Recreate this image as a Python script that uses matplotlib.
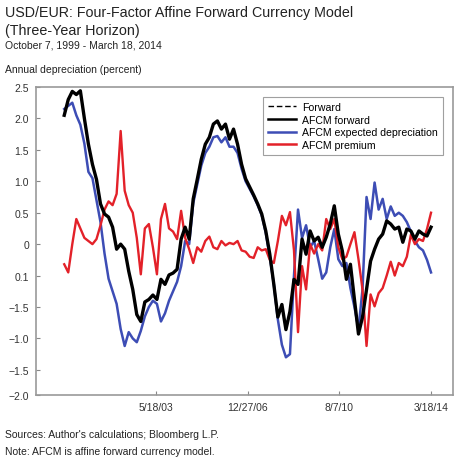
import numpy as np
import pandas as pd
import matplotlib
matplotlib.use("Agg")
import matplotlib.pyplot as plt

plt.rcParams["font.family"] = ["Liberation Sans", "DejaVu Sans"]

afcm_forward = [
    2.05, 2.30, 2.43, 2.38, 2.44, 2.00, 1.59, 1.27, 1.03, 0.64,
    0.48, 0.43, 0.27, -0.08, 0.00, -0.08, -0.43, -0.72, -1.12, -1.23,
    -0.92, -0.88, -0.81, -0.88, -0.56, -0.64, -0.49, -0.46, -0.40, 0.08,
    0.27, 0.08, 0.72, 1.03, 1.35, 1.59, 1.70, 1.91, 1.96, 1.83,
    1.91, 1.67, 1.83, 1.59, 1.27, 1.04, 0.91, 0.78, 0.64, 0.48,
    0.21, -0.16, -0.64, -1.16, -0.96, -1.36, -1.07, -0.56, -0.64, 0.08,
    -0.16, 0.21, 0.05, 0.11, -0.05, 0.11, 0.32, 0.61, 0.16, -0.11,
    -0.56, -0.32, -0.88, -1.43, -1.16, -0.72, -0.27, -0.08, 0.08, 0.16,
    0.37, 0.32, 0.24, 0.27, 0.03, 0.24, 0.21, 0.08, 0.21, 0.16,
    0.13, 0.27,
]
forward = list(afcm_forward)
afcm_expected = [
    2.15, 2.20, 2.25, 2.05, 1.90, 1.60, 1.15, 1.05, 0.70, 0.35,
    -0.15, -0.55, -0.75, -0.95, -1.35, -1.62, -1.40, -1.50, -1.56, -1.38,
    -1.15, -1.00, -0.90, -0.95, -1.23, -1.10, -0.90, -0.75, -0.60, -0.35,
    0.05, 0.00, 0.65, 0.95, 1.25, 1.45, 1.55, 1.70, 1.72, 1.62,
    1.70, 1.55, 1.55, 1.45, 1.20, 1.00, 0.88, 0.76, 0.62, 0.46,
    0.18, -0.20, -0.64, -1.20, -1.60, -1.80, -1.75, -0.50, 0.55, 0.10,
    0.30, -0.05, 0.05, -0.24, -0.55, -0.45, -0.05, 0.24, -0.24, -0.35,
    -0.30, -0.70, -1.00, -1.35, -0.72, 0.75, 0.40, 0.98, 0.55, 0.72,
    0.40, 0.60, 0.45, 0.50, 0.45, 0.35, 0.20, 0.05, -0.05, -0.10,
    -0.25, -0.45,
]
afcm_premium = [
    -0.32, -0.45, 0.00, 0.40, 0.25, 0.10, 0.05, 0.00, 0.08, 0.30,
    0.55, 0.68, 0.62, 0.80, 1.80, 0.85, 0.62, 0.50, 0.10, -0.48,
    0.25, 0.32, -0.05, -0.48, 0.40, 0.64, 0.25, 0.20, 0.08, 0.53,
    0.10, -0.08, -0.30, -0.05, -0.12, 0.05, 0.12, -0.05, -0.08, 0.05,
    -0.02, 0.02, 0.00, 0.05, -0.10, -0.12, -0.20, -0.22, -0.05, -0.10,
    -0.08, -0.25, -0.30, 0.05, 0.45, 0.30, 0.51, -0.10, -1.40, -0.35,
    -0.72, 0.00, -0.15, 0.00, -0.10, 0.40, 0.24, 0.40, -0.05, -0.24,
    -0.20, 0.00, 0.19, -0.24, -0.72, -1.62, -0.80, -0.99, -0.78, -0.70,
    -0.50, -0.28, -0.50, -0.30, -0.35, -0.20, 0.15, 0.00, 0.08, 0.05,
    0.24, 0.50,
]

dates = pd.date_range("1999-10-07", "2014-03-18", periods=len(afcm_forward))

tick_dates = pd.to_datetime(["2003-05-18", "2006-12-27", "2010-08-07", "2014-03-18"])
tick_labels = ["5/18/03", "12/27/06", "8/7/10", "3/18/14"]
ytick_vals = [2.5, 2.0, 1.5, 1.0, 0.5, 0.0, -0.5, -1.0, -1.5, -2.0, -2.4]
ytick_labels = ["2.5", "2.0", "1.5", "1.0", "0.5", "0", "0.1", "\u22121.5", "\u22121.0", "\u22121.5", "\u22122.0"]

fig = plt.figure(figsize=(4.6, 4.6), dpi=100)
ax = fig.add_axes([36 / 460, 64 / 460, 417 / 460, 308 / 460])

blue = "#3d4db5"
red = "#e32129"
ax.plot(dates, forward, color="black", lw=1.0, ls=(0, (4, 2)), label="Forward")
ax.plot(dates, afcm_expected, color=blue, lw=1.8, label="AFCM expected depreciation")
ax.plot(dates, afcm_premium, color=red, lw=1.7, label="AFCM premium")
ax.plot(dates, afcm_forward, color="black", lw=2.4, label="AFCM forward")

ax.set_xlim(pd.Timestamp("1998-08-27"), pd.Timestamp("2015-01-28"))
ax.set_ylim(-2.4, 2.5)
ax.set_xticks(tick_dates)
ax.set_xticklabels(tick_labels)
ax.set_yticks(ytick_vals)
ax.set_yticklabels(ytick_labels)
ax.tick_params(direction="in", length=3, width=0.8, color="#888888",
               labelsize=7.5, labelcolor="#333333", pad=5)

for sp in ax.spines.values():
    sp.set_color("#999999")
    sp.set_linewidth(1.2)

handles, labels = ax.get_legend_handles_labels()
order = [0, 3, 1, 2]
leg = ax.legend([handles[i] for i in order], [labels[i] for i in order],
                loc="upper right", bbox_to_anchor=(0.976, 0.968), fontsize=7.6,
                frameon=True, fancybox=False, handlelength=2.6, handletextpad=0.6,
                borderpad=0.5, labelspacing=0.25, borderaxespad=0)
leg.get_frame().set_edgecolor("#888888")
leg.get_frame().set_linewidth(0.8)
for line in leg.get_lines():
    line.set_linewidth(1.8)
leg.get_lines()[0].set_linewidth(1.0)

fig.text(0.01, 1 - 13 / 460, "USD/EUR: Four-Factor Affine Forward Currency Model",
         fontsize=10.3, color="#222222", va="center")
fig.text(0.01, 1 - 31 / 460, "(Three-Year Horizon)", fontsize=10.3, color="#222222", va="center")
fig.text(0.01, 1 - 45 / 460, "October 7, 1999 - March 18, 2014", fontsize=7.5,
         color="#222222", va="center")
fig.text(0.01, 1 - 70 / 460, "Annual depreciation (percent)", fontsize=7.5,
         color="#222222", va="center")
fig.text(0.01, 1 - 435 / 460, "Sources: Author's calculations; Bloomberg L.P.",
         fontsize=7.5, color="#222222", va="center")
fig.text(0.01, 1 - 452 / 460, "Note: AFCM is affine forward currency model.",
         fontsize=7.5, color="#222222", va="center")

fig.savefig("out.png", dpi=100)
